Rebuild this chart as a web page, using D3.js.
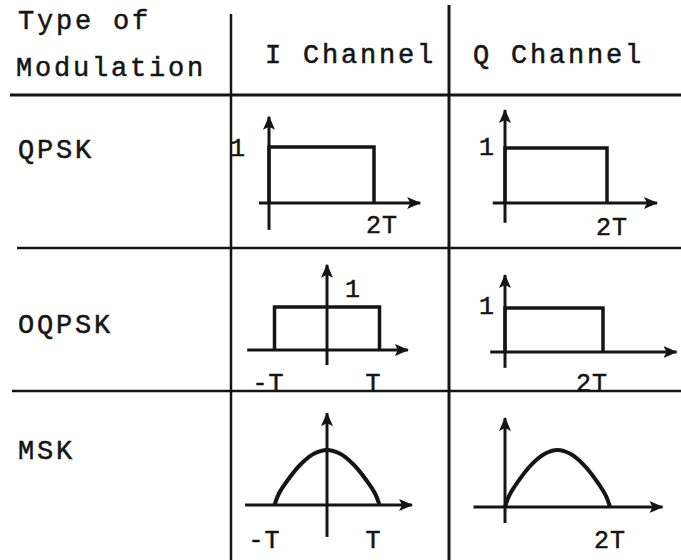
<!DOCTYPE html>
<html>
<head>
<meta charset="utf-8">
<script src="https://cdn.jsdelivr.net/npm/d3@7"></script>
<style>
  body { margin: 0; background: #fff; }
  text { font-family: "Liberation Mono", "Courier New", monospace; fill: #151515; stroke: #151515; stroke-width: 0.5px; }
</style>
</head>
<body>
<div id="chart"></div>
<script>
// table text
const headerLines = ["Type of", "Modulation"];
const channels = ["I Channel", "Q Channel"];
const modulations = ["QPSK", "OQPSK", "MSK"];

// pulse shapes: [t in units of T, amplitude]
const qpskI = [[0, 0], [0, 1], [2, 1], [2, 0]];
const qpskQ = [[0, 0], [0, 1], [2, 1], [2, 0]];
const oqpskI = [[-1, 0], [-1, 1], [1, 1], [1, 0]];
const oqpskQ = [[0, 0], [0, 1], [2, 1], [2, 0]];
const mskI = [[-1, 0], [-0.92, 0.2], [-0.75, 0.45], [-0.5, 0.74], [-0.25, 0.93], [0, 1], [0.25, 0.93], [0.5, 0.74], [0.75, 0.45], [0.92, 0.2], [1, 0]];
const mskQ = [[0, 0], [0.08, 0.2], [0.25, 0.45], [0.5, 0.74], [0.75, 0.93], [1, 1], [1.25, 0.93], [1.5, 0.74], [1.75, 0.45], [1.92, 0.2], [2, 0]];

// axis extents in data units
const axisT = [[-0.19, 2.88], [-0.24, 2.98], [-1.52, 1.54], [-0.3, 3.5], [-1.56, 1.62], [-0.6, 3.0]];
const axisV = [[-0.48, 1.54], [-0.36, 1.69], [-0.35, 1.98], [-0.36, 1.75], [-0.58, 1.67], [-0.28, 1.56]];

// tick labels: [text, t, v]
const tickLabels = [
  [["1", 0, 1], ["2T", 2, 0]],
  [["1", 0, 1], ["2T", 2, 0]],
  [["1", 0, 1], ["-T", -1, 0], ["T", 1, 0]],
  [["1", 0, 1], ["2T", 2, 0]],
  [["-T", -1, 0], ["T", 1, 0]],
  [["2T", 2, 0]]
];

const pulses = [qpskI, qpskQ, oqpskI, oqpskQ, mskI, mskQ];
const smooth = [false, false, false, false, true, true];

// layout: origin pixel, px per T, baseline pixel, px per unit amplitude
const panels = [
  { x0: 269, pxT: 52.5, y0: 203, pxV: 56 },
  { x0: 505, pxT: 51, y0: 203, pxV: 55 },
  { x0: 327, pxT: 52.5, y0: 350, pxV: 43 },
  { x0: 505, pxT: 49, y0: 352, pxV: 44 },
  { x0: 327, pxT: 52.5, y0: 505, pxV: 55 },
  { x0: 505, pxT: 52.5, y0: 507, pxV: 57 }
];
// label centre offsets from anchor, pixels
const labelOffsets = [
  [[-31, 2], [8, 23]],
  [[-18, 0], [5, 25]],
  [[26, -17], [-6, 34], [-6, 34]],
  [[-18, -1], [-11, 32]],
  [[-10, 36], [-6, 36]],
  [[0, 34]]
];

const width = 681, height = 560;
const ink = "#151515";

const svg = d3.select("#chart").append("svg")
  .attr("width", width)
  .attr("height", height);

svg.append("defs").append("marker")
  .attr("id", "arrow")
  .attr("markerUnits", "userSpaceOnUse")
  .attr("viewBox", "0 0 14 12")
  .attr("refX", 13).attr("refY", 6)
  .attr("markerWidth", 14).attr("markerHeight", 12)
  .attr("orient", "auto")
  .append("path")
  .attr("d", "M0,0 L14,6 L0,12 L3,6 Z")
  .attr("fill", ink);

// table rules
const rules = [
  [10, 95, 681, 95, 3],
  [17, 248, 681, 248, 2.5],
  [12, 391, 681, 391, 2.5],
  [231, 14, 231, 560, 2.5],
  [449, 5, 449, 560, 3]
];
svg.append("g").selectAll("line")
  .data(rules)
  .join("line")
  .attr("x1", d => d[0]).attr("y1", d => d[1])
  .attr("x2", d => d[2]).attr("y2", d => d[3])
  .attr("stroke", ink)
  .attr("stroke-width", d => d[4]);

const font = 27;
const spacing = 2.8;

svg.append("g").selectAll("text")
  .data(headerLines)
  .join("text")
  .attr("x", (d, i) => i === 0 ? 18 : 16)
  .attr("y", (d, i) => i === 0 ? 29 : 76)
  .attr("font-size", font)
  .attr("letter-spacing", spacing)
  .text(d => d);

svg.append("g").selectAll("text")
  .data(channels)
  .join("text")
  .attr("x", (d, i) => i === 0 ? 265 : 473)
  .attr("y", 63)
  .attr("font-size", font)
  .attr("letter-spacing", spacing)
  .text(d => d);

svg.append("g").selectAll("text")
  .data(modulations)
  .join("text")
  .attr("x", 18)
  .attr("y", (d, i) => [158, 333, 459][i])
  .attr("font-size", font)
  .attr("letter-spacing", spacing)
  .text(d => d);

// pulse diagrams
panels.forEach((p, k) => {
  const x = d3.scaleLinear().domain([0, 1]).range([p.x0, p.x0 + p.pxT]);
  const y = d3.scaleLinear().domain([0, 1]).range([p.y0, p.y0 - p.pxV]);
  const g = svg.append("g");

  g.append("line")
    .attr("x1", x(axisT[k][0])).attr("y1", y(0))
    .attr("x2", x(axisT[k][1])).attr("y2", y(0))
    .attr("stroke", ink).attr("stroke-width", 3)
    .attr("marker-end", "url(#arrow)");

  g.append("line")
    .attr("x1", x(0)).attr("y1", y(axisV[k][0]))
    .attr("x2", x(0)).attr("y2", y(axisV[k][1]))
    .attr("stroke", ink).attr("stroke-width", 3)
    .attr("marker-end", "url(#arrow)");

  const line = d3.line()
    .x(d => x(d[0]))
    .y(d => y(d[1]))
    .curve(smooth[k] ? d3.curveCatmullRom : d3.curveLinear);

  g.append("path")
    .attr("d", line(pulses[k]))
    .attr("fill", "none")
    .attr("stroke", ink)
    .attr("stroke-width", smooth[k] ? 4 : 3.5)
    .attr("stroke-linejoin", "miter");

  g.selectAll("text")
    .data(tickLabels[k])
    .join("text")
    .attr("x", (d, i) => x(d[1]) + labelOffsets[k][i][0])
    .attr("y", (d, i) => y(d[2]) + labelOffsets[k][i][1])
    .attr("text-anchor", "middle")
    .attr("dominant-baseline", "central")
    .attr("font-size", 25)
    .attr("letter-spacing", 1)
    .text(d => d[0]);
});
</script>
</body>
</html>
